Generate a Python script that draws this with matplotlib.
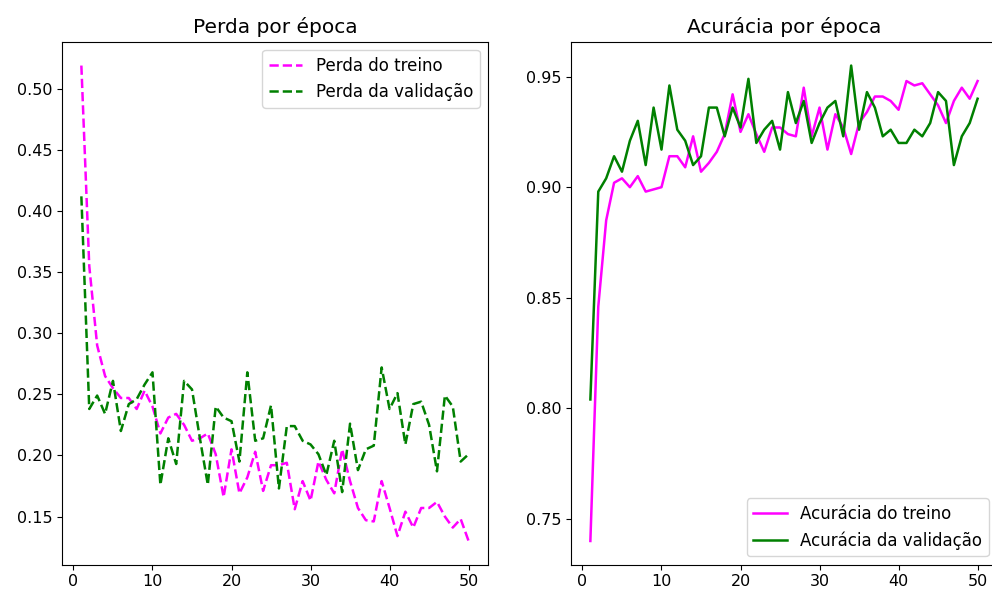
import matplotlib
matplotlib.use('Agg')
from matplotlib import pyplot as plt

epochs = list(range(1, 51))

train_loss = [0.519, 0.355, 0.290, 0.265, 0.255, 0.247, 0.247, 0.238, 0.253, 0.240,
              0.218, 0.231, 0.234, 0.225, 0.212, 0.214, 0.218, 0.201, 0.166, 0.205,
              0.169, 0.182, 0.203, 0.171, 0.192, 0.192, 0.194, 0.156, 0.179, 0.163,
              0.195, 0.180, 0.169, 0.205, 0.179, 0.157, 0.147, 0.146, 0.179, 0.157,
              0.134, 0.154, 0.141, 0.157, 0.157, 0.162, 0.150, 0.141, 0.148, 0.130]

val_loss = [0.412, 0.238, 0.249, 0.234, 0.261, 0.220, 0.242, 0.246, 0.258, 0.268,
            0.176, 0.214, 0.193, 0.261, 0.254, 0.214, 0.176, 0.240, 0.231, 0.228,
            0.195, 0.268, 0.212, 0.214, 0.241, 0.173, 0.224, 0.224, 0.212, 0.209,
            0.201, 0.184, 0.212, 0.170, 0.226, 0.188, 0.205, 0.208, 0.272, 0.238,
            0.251, 0.209, 0.242, 0.244, 0.225, 0.187, 0.249, 0.240, 0.195, 0.201]

train_acc = [0.740, 0.846, 0.885, 0.902, 0.904, 0.900, 0.905, 0.898, 0.899, 0.900,
             0.914, 0.914, 0.909, 0.923, 0.907, 0.911, 0.916, 0.924, 0.942, 0.925,
             0.933, 0.924, 0.916, 0.927, 0.927, 0.924, 0.923, 0.945, 0.923, 0.936,
             0.917, 0.933, 0.927, 0.915, 0.929, 0.934, 0.941, 0.941, 0.939, 0.935,
             0.948, 0.946, 0.947, 0.942, 0.937, 0.929, 0.939, 0.945, 0.940, 0.948]

val_acc = [0.804, 0.898, 0.904, 0.914, 0.907, 0.921, 0.930, 0.910, 0.936, 0.917,
           0.946, 0.926, 0.921, 0.910, 0.914, 0.936, 0.936, 0.923, 0.936, 0.927,
           0.949, 0.920, 0.926, 0.930, 0.917, 0.943, 0.929, 0.939, 0.920, 0.929,
           0.936, 0.939, 0.923, 0.955, 0.926, 0.943, 0.936, 0.923, 0.926, 0.920,
           0.920, 0.926, 0.923, 0.929, 0.943, 0.939, 0.910, 0.923, 0.929, 0.940]

fig, (ax1, ax2) = plt.subplots(1, 2, figsize=(9.92, 5.97), dpi=100)
# the right panel runs a little past the image edge, as in the original crop
fig.subplots_adjust(left=0.0625, right=1.005, top=0.930, bottom=0.054, wspace=0.195)

ax1.plot(epochs, train_loss, '--', color='magenta', lw=1.8, label='Perda do treino')
ax1.plot(epochs, val_loss, '--', color='green', lw=1.8, label='Perda da validação')
ax1.set_title('Perda por época', fontsize=14.5)
ax1.legend(fontsize=12, loc='upper right')

ax2.plot(epochs, train_acc, color='magenta', lw=1.8, label='Acurácia do treino')
ax2.plot(epochs, val_acc, color='green', lw=1.8, label='Acurácia da validação')
ax2.set_title('Acurácia por época', fontsize=14.5)
ax2.legend(fontsize=12, loc='lower right')

for ax in (ax1, ax2):
    ax.tick_params(labelsize=11.5)

fig.savefig('out.png', dpi=100)
